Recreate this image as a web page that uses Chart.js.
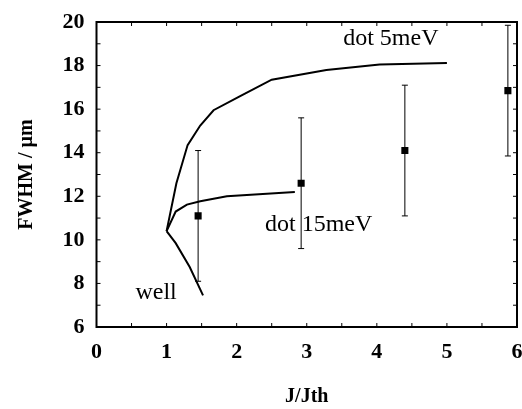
<!DOCTYPE html>
<html>
<head>
<meta charset="utf-8">
<script src="https://cdn.jsdelivr.net/npm/chart.js@4"></script>
<style>
  html, body { margin: 0; padding: 0; background: #fff; }
  #wrap { width: 522px; height: 409px; }
</style>
</head>
<body>
<div id="wrap"><canvas id="fw"></canvas></div>
<script>
let dot5X = [1, 1.14, 1.3, 1.48, 1.67, 2.05, 2.5, 3.28, 4.04, 5.0];
let dot5Y = [10.4, 12.6, 14.35, 15.25, 15.95, 16.6, 17.35, 17.8, 18.05, 18.12];

let dot15X = [1, 1.13, 1.29, 1.48, 1.86, 2.83];
let dot15Y = [10.4, 11.3, 11.62, 11.77, 12.0, 12.2];

let wellX = [1, 1.13, 1.33, 1.52];
let wellY = [10.4, 9.85, 8.75, 7.45];

let measX = [1.45, 2.92, 4.4, 5.87];
let measY = [11.1, 12.6, 14.1, 16.85];
let measErr = [3, 3, 3, 3];

// curve labels, in data units
let labelText = ['dot 5meV', 'dot 15meV', 'well'];
let labelX = [4.2, 3.17, 0.85];
let labelY = [19.25, 10.71, 7.59];

const FONT = "'Liberation Serif', 'Times New Roman', serif";

function pts(xs, ys) {
    return xs.map((x, i) => ({x: x, y: ys[i]}));
}

function curve(label, xs, ys) {
    return {
        label: label,
        data: pts(xs, ys),
        showLine: true,
        borderColor: '#000',
        borderWidth: 2,
        pointRadius: 0,
        tension: 0,
    };
}

// error bars, inward ticks, frame and curve labels
const extras = {
    id: 'extras',
    afterDatasetsDraw(chart) {
        const c = chart.ctx;
        const xs = chart.scales.x, ys = chart.scales.y;
        const a = chart.chartArea;
        c.save();
        c.strokeStyle = '#000';
        c.lineWidth = 1;
        measX.forEach((x, i) => {
            const px = xs.getPixelForValue(x);
            const top = ys.getPixelForValue(measY[i] + measErr[i]);
            const bot = ys.getPixelForValue(measY[i] - measErr[i]);
            c.beginPath();
            c.moveTo(px, top); c.lineTo(px, bot);
            c.moveTo(px - 3, top); c.lineTo(px + 3, top);
            c.moveTo(px - 3, bot); c.lineTo(px + 3, bot);
            c.stroke();
        });

        c.lineWidth = 2;
        c.strokeRect(a.left, a.top, a.right - a.left, a.bottom - a.top);

        c.lineWidth = 1;
        c.beginPath();
        ys.ticks.forEach((t, i) => {
            const py = ys.getPixelForTick(i);
            c.moveTo(a.left, py); c.lineTo(a.left + 4, py);
            c.moveTo(a.right, py); c.lineTo(a.right - 4, py);
        });
        xs.ticks.forEach((t, i) => {
            const px = xs.getPixelForTick(i);
            c.moveTo(px, a.bottom); c.lineTo(px, a.bottom - 4);
            c.moveTo(px, a.top); c.lineTo(px, a.top + 4);
        });
        c.stroke();

        c.fillStyle = '#000';
        c.font = '24px ' + FONT;
        c.textAlign = 'center';
        c.textBaseline = 'middle';
        labelText.forEach((s, i) => {
            c.fillText(s, xs.getPixelForValue(labelX[i]), ys.getPixelForValue(labelY[i]));
        });
        c.restore();
    }
};

const ctx = document.getElementById('fw').getContext('2d');
const fwChart = new Chart(ctx, {
    type: 'scatter',
    data: {
        datasets: [
            curve('dot 5meV', dot5X, dot5Y),
            curve('dot 15meV', dot15X, dot15Y),
            curve('well', wellX, wellY),
            {
                label: 'measured',
                data: pts(measX, measY),
                pointStyle: 'rect',
                pointRadius: 5,
                backgroundColor: '#000',
                borderColor: '#000',
                borderWidth: 0,
            }
        ]
    },
    options: {
        responsive: true,
        maintainAspectRatio: false,
        animation: false,
        layout: {
            autoPadding: false,
            padding: {top: 22, right: 5, left: 0, bottom: 0}
        },
        scales: {
            x: {
                type: 'linear',
                min: 0,
                max: 6,
                border: {display: false},
                grid: {display: false, drawTicks: false},
                ticks: {
                    stepSize: 0.5,
                    padding: 12,
                    maxRotation: 0,
                    autoSkip: false,
                    color: '#000',
                    font: {family: FONT, size: 22, weight: 'bold'},
                    callback: v => Number.isInteger(v) ? v : ''
                },
                title: {
                    display: true,
                    text: 'J/Jth',
                    color: '#000',
                    padding: {top: 18, bottom: 0},
                    font: {family: FONT, size: 20, weight: 'bold'}
                },
                afterFit: s => {
                    s.height = 409 - 327;
                    s.paddingLeft = 0;
                    s.paddingRight = 0;
                }
            },
            y: {
                min: 6,
                max: 20,
                border: {display: false},
                grid: {display: false, drawTicks: false},
                ticks: {
                    stepSize: 1,
                    padding: 12,
                    autoSkip: false,
                    color: '#000',
                    font: {family: FONT, size: 22, weight: 'bold'},
                    callback: v => v % 2 === 0 ? v : ''
                },
                title: {
                    display: true,
                    text: 'FWHM / µm',
                    color: '#000',
                    padding: {top: 15, bottom: 0},
                    font: {family: FONT, size: 20, weight: 'bold'}
                },
                afterFit: s => {
                    s.width = 96.5;
                    s.paddingTop = 0;
                    s.paddingBottom = 0;
                }
            }
        },
        plugins: {
            legend: {display: false},
            tooltip: {enabled: false}
        }
    },
    plugins: [extras]
});
</script>
</body>
</html>
